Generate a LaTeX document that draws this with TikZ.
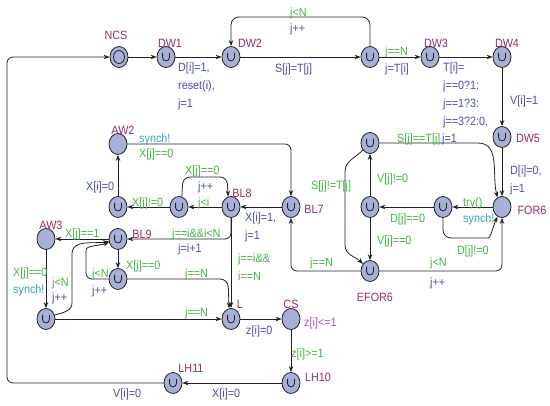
\documentclass[tikz,border=0pt]{standalone}
\usepackage{fontspec}
\setmainfont{Liberation Sans}[FakeStretch=0.9]
\usetikzlibrary{shapes.geometric,arrows.meta}
\definecolor{locfill}{HTML}{A7B1D8}
\definecolor{namec}{HTML}{9C2A6A}
\definecolor{guardc}{HTML}{3DB83D}
\definecolor{updc}{HTML}{4A4ACF}
\definecolor{syncc}{HTML}{30A8B8}
\definecolor{invc}{HTML}{B84BC8}
\definecolor{linec}{HTML}{222222}
\begin{document}
\begin{tikzpicture}[x=1pt,y=1pt,
  loc/.style={ellipse, draw=linec, line width=0.8pt, fill=locfill, minimum width=18pt, minimum height=21pt, inner sep=0pt},
  urg/.style={loc, path picture={\draw[line width=0.8pt, linec] ([xshift=-3.4pt,yshift=4pt]path picture bounding box.center) -- ++(0,-4.5) arc[start angle=180,end angle=360,radius=3.4] -- ++(0,4.5);}},
  init/.style={loc, path picture={\draw[line width=0.8pt, linec] (path picture bounding box.center) ellipse[x radius=5.5, y radius=6.5];}},
  e/.style={draw=linec, line width=0.8pt, -{Stealth[length=6pt,width=4.5pt]}},
  lab/.style={inner sep=0pt, anchor=base west, align=left, font=\fontsize{12}{18}\selectfont},
  nm/.style={inner sep=0pt, text=namec, font=\fontsize{12}{14}\selectfont},
  gd/.style={lab, text=guardc},
  up/.style={lab, text=updc},
  sy/.style={lab, text=syncc},
  iv/.style={lab, text=invc}
]
\useasboundingbox (0,0) rectangle (550,-406);
% locations
\node[init] (NCS) at (119,-57) {};
\node[urg] (DW1) at (166,-57) {};
\node[urg] (DW2) at (231,-57) {};
\node[urg] (W) at (370,-57) {};
\node[urg] (DW3) at (430,-57) {};
\node[urg] (DW4) at (502,-57) {};
\node[urg] (DW5) at (502,-137) {};
\node[loc] (FOR6) at (502,-207) {};
\node[urg] (U1) at (370,-143) {};
\node[urg] (U2) at (370,-207) {};
\node[urg] (U3) at (443,-207) {};
\node[urg] (EFOR6) at (370,-271) {};
\node[urg] (BL7) at (291,-207) {};
\node[urg] (BL8) at (231,-207) {};
\node[urg] (U4) at (179,-207) {};
\node[urg] (U5) at (118,-207) {};
\node[loc] (AW2) at (118,-144) {};
\node[urg] (BL9) at (118,-239) {};
\node[loc] (AW3) at (46,-239) {};
\node[urg] (U6) at (118,-279) {};
\node[urg] (U7) at (46,-319) {};
\node[urg] (L) at (231,-319) {};
\node[loc] (CS) at (291,-319) {};
\node[urg] (LH10) at (291,-383) {};
\node[urg] (LH11) at (173,-383) {};
% names
\node[nm] (nNCS) at (116,-35) {NCS};
\node[nm] (nDW1) at (170,-43) {DW1};
\node[nm] (nDW2) at (250,-43) {DW2};
\node[nm] (nDW3) at (436,-43) {DW3};
\node[nm] (nDW4) at (507,-43) {DW4};
\node[nm] (nDW5) at (528,-138) {DW5};
\node[nm] (nFOR6) at (532,-210) {FOR6};
\node[nm] (nEFOR6) at (375,-297) {EFOR6};
\node[nm] (nBL7) at (314,-209) {BL7};
\node[nm] (nBL8) at (242,-193) {BL8};
\node[nm] (nBL9) at (142,-234) {BL9};
\node[nm] (nAW2) at (123,-130) {AW2};
\node[nm] (nAW3) at (51,-225) {AW3};
\node[nm] (nL) at (240,-304) {L};
\node[nm] (nCS) at (291,-304) {CS};
\node[nm] (nLH10) at (318,-377) {LH10};
\node[nm] (nLH11) at (191,-368) {LH11};
% edges
\draw[e] (NCS) -- (DW1);
\draw[e] (DW1) -- (DW2);
\draw[e] (DW2) -- (W);
\draw[e, rounded corners=8] (W.north) -- (370,-17) -- (231,-17) -- (DW2.north);
\draw[e] (W) -- (DW3);
\draw[e] (DW3) -- (DW4);
\draw[e] (DW4) -- (DW5);
\draw[e] (DW5) -- (FOR6);
\draw[e] (FOR6) -- (U3);
\draw[e] (U3) -- (U2);
\draw[e, rounded corners=8] (U3.south) -- (443,-238) -- (480,-238) to[out=0,in=-115] (FOR6.-115);
\draw[e] (U2) -- (U1);
\draw[e] (U2) -- (EFOR6);
\draw[e] (U1.east) -- (478,-143) to[out=0,in=105] (FOR6.115);
\draw[e] (U1.-135) to[out=-135,in=90] (345,-172) -- (345,-245) to[out=-90,in=135] (EFOR6.135);
\draw[e, rounded corners=6] (EFOR6.east) -- (502,-271) -- (FOR6.south);
\draw[e, rounded corners=6] (EFOR6.west) -- (291,-271) -- (BL7.south);
\draw[e, rounded corners=6] (AW2.east) -- (291,-144) -- (BL7.north);
\draw[e] (BL7) -- (BL8);
\draw[e] (BL8) -- (U4);
\draw[e, rounded corners=7] (U4.75) -- (183,-177) -- (227,-177) -- (BL8.105);
\draw[e] (U4) -- (U5);
\draw[e] (U5) -- (AW2);
\draw[e, rounded corners=6] (BL8.south) -- (231,-239) -- (BL9.east);
\draw[e] (BL8.south) -- (L.north);
\draw[e] (BL9) -- (AW3);
\draw[e] (BL9) -- (U6);
\draw[e, rounded corners=6] (U6.west) -- (86,-279) -- (86,-256) to[out=90,in=200] (BL9.200);
\draw[e] (U7.25) to[out=15,in=-90] (72,-303) -- (72,-254) to[out=90,in=190] (BL9.195);
\draw[e, rounded corners=8] (U6.east) -- (228,-279) -- (L.100);
\draw[e] (AW3) -- (U7);
\draw[e] (U7) -- (L);
\draw[e] (L) -- (CS);
\draw[e] (CS) -- (LH10);
\draw[e] (LH10) -- (LH11);
\draw[e, rounded corners=6] (LH11.west) -- (7,-383) -- (7,-57) -- (NCS.west);
% edge labels (multi-line: base = last line)
\node[up] (a1) at (178,-107.8) {D[i]=1,\\reset(i),\\j=1};
\node[up] (a2) at (275,-72.3) {S[j]=T[j]};
\node[gd] (a3) at (290,-16.3) {j<N};
\node[up] (a4) at (290,-32.3) {j++};
\node[gd] (a5) at (385,-55.3) {j==N};
\node[up] (a6) at (385,-72.3) {j=T[i]};
\node[up] (a7) at (443,-125.8) {T[i]=\\j==0?1:\\j==1?3:\\j==3?2:0,};
\node[up] (a8) at (510,-104.3) {V[i]=1};
\node[up] (a9) at (510,-192.3) {D[i]=0,\\j=1};
\node[gd] (a10) at (463,-206.3) {try()};
\node[sy] (a11) at (463,-222.3) {synch!};
\node[gd] (a12) at (390,-222.3) {D[j]==0};
\node[gd] (a13) at (457,-254.3) {D[j]!=0};
\node[gd] (a14) at (377,-182.3) {V[j]!=0};
\node[gd] (a15) at (377,-244.3) {V[j]==0};
\node[gd] (a16) at (397,-142.3) {S[j]==T[j]};
\node[up] (a17) at (442,-142.3) {j=1};
\node[gd] (a18) at (311,-189.3) {S[j]!=T[j]};
\node[gd] (a19) at (430,-266.3) {j<N};
\node[up] (a20) at (430,-286.3) {j++};
\node[gd] (a21) at (310,-266.3) {j==N};
\node[sy] (a22) at (139,-142.3) {synch!};
\node[gd] (a23) at (139,-157.3) {X[j]==0};
\node[up] (a24) at (245,-239.3) {X[i]=1,\\j=1};
\node[gd] (a25) at (198,-206.3) {j<i};
\node[gd] (a26) at (185,-174.3) {X[j]==0};
\node[up] (a27) at (198,-190.3) {j++};
\node[gd] (a28) at (132,-206.3) {X[j]!=0};
\node[up] (a29) at (86,-190.3) {X[i]=0};
\node[gd] (a30) at (172,-237.3) {j==i\&\&i<N};
\node[up] (a31) at (178,-252.3) {j=i+1};
\node[gd] (a32) at (238,-280.3) {j==i\&\&\\i==N};
\node[gd] (a33) at (65,-237.3) {X[j]==1};
\node[gd] (a34) at (126,-269.3) {X[j]==0};
\node[gd] (a35) at (92,-277.3) {j<N};
\node[up] (a36) at (92,-294.3) {j++};
\node[gd] (a37) at (185,-277.3) {j==N};
\node[gd] (a38) at (13,-276.3) {X[j]==0};
\node[sy] (a39) at (13,-293.3) {synch!};
\node[gd] (a40) at (52,-286.3) {j<N};
\node[up] (a41) at (52,-301.3) {j++};
\node[gd] (a42) at (185,-316.3) {j==N};
\node[up] (a43) at (246,-334.3) {z[i]=0};
\node[iv] (a44) at (304,-326.3) {z[i]<=1};
\node[gd] (a45) at (291,-357.3) {z[i]>=1};
\node[up] (a46) at (212,-397.3) {X[i]=0};
\node[up] (a47) at (113,-397.3) {V[i]=0};
\end{tikzpicture}
\end{document}
